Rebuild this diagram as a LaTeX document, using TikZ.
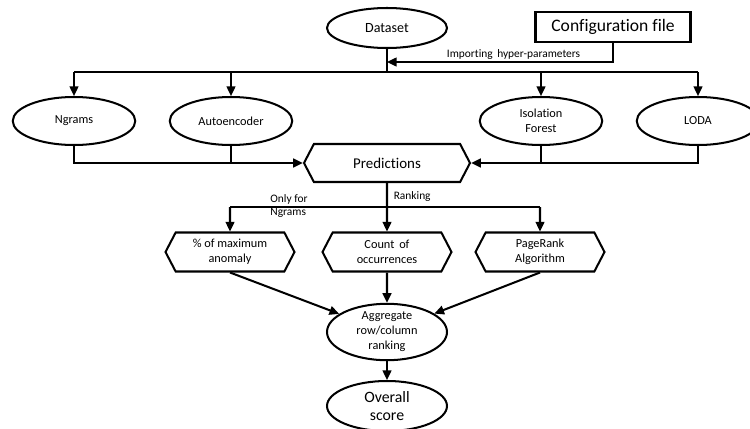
\documentclass[tikz,border=0pt]{standalone}
\usepackage{fontspec}
\setmainfont{Carlito}[Ligatures=NoCommon]
\usetikzlibrary{arrows.meta,shapes.geometric,shapes.symbols}

\begin{document}
\begin{tikzpicture}[font=\fontsize{7}{8.5}\selectfont, >={Triangle[length=5.5pt,width=5pt]}, line width=1.15pt,
  oval/.style={draw, ellipse, inner sep=0pt, align=center, minimum width=2.45cm, minimum height=0.96cm},
  hexa/.style={draw, signal, signal to=west and east, signal pointer angle=125, inner sep=0pt, align=center, minimum width=2.58cm, minimum height=0.78cm},
  cfgbox/.style={draw, inner sep=0pt, minimum width=3.1cm, minimum height=0.6cm, font=\fontsize{10}{12}\selectfont},
  lbl/.style={inner sep=1pt, font=\fontsize{6.5}{7.8}\selectfont}]
  \useasboundingbox (0,0) rectangle (15,8.56);
  % input and models
  \node[oval, minimum width=2.4cm, minimum height=0.8cm, font=\fontsize{8}{9.5}\selectfont] (ds) at (7.74,8.0) {Dataset};
  \node[cfgbox] (cfg) at (12.26,8.02) {Configuration file};
  \coordinate (bus) at (7.74,7.12);
  \coordinate (imp) at (7.74,7.32);
  \draw (ds) -- (bus);
  \draw[->] (cfg) |- node[lbl, pos=0.72, above] {Importing\, hyper-parameters} (imp);
  \node[oval] (ngr)  at (1.48,6.14)  {Ngrams};
  \node[oval] (ae)   at (4.62,6.14)  {Autoencoder};
  \node[oval] (iso)  at (10.82,6.14) {Isolation\\Forest};
  \node[oval] (loda) at (13.96,6.14) {LODA};
  \draw (bus -| ngr) -- (bus -| loda);
  \draw[->] (bus -| ngr) -- (ngr); \draw[->] (bus -| ae) -- (ae);
  \draw[->] (bus -| iso) -- (iso); \draw[->] (bus -| loda) -- (loda);
  % predictions
  \node[hexa, minimum width=3.32cm, minimum height=0.76cm, font=\fontsize{8.5}{10}\selectfont] (pred) at (7.74,5.3) {Predictions};
  \draw[->] (ngr) |- (pred.west); \draw (ae) -- (ae |- pred.west);
  \draw[->] (loda) |- (pred.east); \draw (iso) -- (iso |- pred.east);
  % ranking
  \coordinate (rk) at (7.74,4.42);
  \node[hexa] (pct) at (4.6,3.52)  {\% of maximum\\anomaly};
  \node[hexa] (cnt) at (7.74,3.52) {Count\, of\\occurrences};
  \node[hexa] (pgr) at (10.8,3.52) {PageRank\\Algorithm};
  \draw (pred) -- (rk);
  \draw (rk -| pct) -- (rk -| pgr);
  \draw[->] (rk -| pct) -- (pct); \draw[->] (rk) -- (cnt); \draw[->] (rk -| pgr) -- (pgr);
  \node[lbl, anchor=south west] at (7.82,4.48) {Ranking};
  \node[lbl, align=left] at (5.78,4.44) {Only for\\Ngrams};
  % aggregation
  \node[oval, minimum width=2.4cm, minimum height=0.94cm] (agg) at (7.74,1.92) {Aggregate\\row/column\\ranking};
  \node[oval, minimum width=2.4cm, minimum height=1.0cm, font=\fontsize{9}{10.5}\selectfont] (ovr) at (7.74,0.44) {Overall\\score};
  \draw[->] (pct.south) -- (agg); \draw[->] (cnt) -- (agg); \draw[->] (pgr.south) -- (agg);
  \draw[->] (agg) -- (ovr);
\end{tikzpicture}
\end{document}
